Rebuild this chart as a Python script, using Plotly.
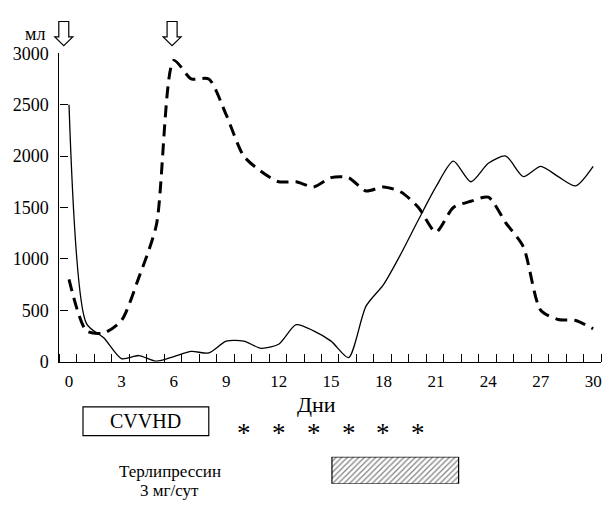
import plotly.graph_objects as go

# ---- data ----
days = list(range(31))
solid = [2500, 370, 230, 30, 60, 5, 50, 100, 85, 200, 200, 130, 170, 360, 300, 200,
         40, 540, 750, 1050, 1380, 1700, 1950, 1750, 1930, 2000, 1800, 1900, 1800, 1710, 1900]
dashed = [800, 300, 280, 400, 820, 1330, 2930, 2750, 2750, 2400, 2000, 1850, 1750, 1750, 1700, 1790,
          1790, 1660, 1700, 1650, 1500, 1260, 1500, 1560, 1600, 1350, 1120, 500, 410, 400, 320]
x_ticks = [0, 3, 6, 9, 12, 15, 18, 21, 24, 27, 30]
y_ticks = [0, 500, 1000, 1500, 2000, 2500, 3000]
star_days = [10, 12, 14, 16, 18, 20]
cvvhd_days = [0.8, 8.0]
terli_days = [15.05, 22.3]
arrow_days = [-0.3, 5.9]

W, H = 609, 512
XL, XR = 59.5, 602.0          # x-axis extent in px
YT, YB = 45.0, 366.0          # y-axis extent in px
XR0, XR1 = -0.55, 30.45
FONT = 'Liberation Serif, Times New Roman, serif'


def xp(day):
    return (XL + (day - XR0) / (XR1 - XR0) * (XR - XL)) / W


def pp(px, py):
    return px / W, (H - py) / H


fig = go.Figure()
fig.add_trace(go.Scatter(x=days, y=solid, mode='lines',
                         line=dict(color='black', width=1.3, shape='spline', smoothing=0.7)))
fig.add_trace(go.Scatter(x=days, y=dashed, mode='lines',
                         line=dict(color='black', width=3, dash='12px,7px', shape='spline', smoothing=0.7)))
fig.add_trace(go.Bar(x=[terli_days[1] - terli_days[0]], base=[terli_days[0]], y=[0],
                     orientation='h', yaxis='y2', width=1,
                     marker=dict(color='white', line=dict(color='black', width=1.2),
                                 pattern=dict(shape='/', fgcolor='black', bgcolor='white',
                                              size=4, solidity=0.3))))

shapes = []
shapes.append(dict(type='rect', xref='x', yref='paper', x0=cvvhd_days[0], x1=cvvhd_days[1],
                   y0=(H - 443) / H, y1=(H - 413) / H, line=dict(color='black', width=1.2)))
for d in arrow_days:
    cx = xp(d) * W
    pts = [(cx - 5, 12), (cx + 5, 12), (cx + 5, 28), (cx + 9, 28), (cx, 37), (cx - 9, 28), (cx - 5, 28)]
    path = 'M ' + ' L '.join('%.4f,%.4f' % pp(a, b) for a, b in pts) + ' Z'
    shapes.append(dict(type='path', xref='paper', yref='paper', path=path,
                       line=dict(color='black', width=1.2), fillcolor='white'))

ann = []
ann.append(dict(text='мл', xref='paper', yref='paper', x=35 / W, y=(H - 25) / H,
                showarrow=False, font=dict(size=18), xanchor='center', yanchor='middle'))
ann.append(dict(text='Дни', xref='paper', yref='paper', x=317 / W, y=(H - 411) / H,
                showarrow=False, font=dict(size=22), xanchor='center', yanchor='middle'))
ann.append(dict(text='CVVHD', xref='x', yref='paper', x=sum(cvvhd_days) / 2, y=(H - 428) / H,
                showarrow=False, font=dict(size=20), xanchor='center', yanchor='middle'))
for d in star_days:
    ann.append(dict(text='*', xref='x', yref='paper', x=d, y=(H - 440) / H,
                    showarrow=False, font=dict(size=27), xanchor='center', yanchor='middle'))
ann.append(dict(text='Терлипрессин', xref='paper', yref='paper', x=170 / W, y=(H - 480) / H,
                showarrow=False, font=dict(size=17), xanchor='center', yanchor='middle'))
ann.append(dict(text='3 мг/сут', xref='paper', yref='paper', x=170 / W, y=(H - 500) / H,
                showarrow=False, font=dict(size=17), xanchor='center', yanchor='middle'))

fig.update_layout(
    width=W, height=H, margin=dict(l=0, r=0, t=0, b=0),
    paper_bgcolor='white', plot_bgcolor='white', showlegend=False,
    font=dict(family=FONT, color='black'),
    xaxis=dict(domain=[XL / W, XR / W], range=[XR0, XR1], tickvals=x_ticks, ticks='',
               showgrid=False, zeroline=False, showline=True, linecolor='black', linewidth=1.2,
               tickfont=dict(size=17), anchor='y', ticklabelstandoff=4,
               minor=dict(tick0=0.45, dtick=1, ticks='inside', ticklen=8, tickcolor='black',
                          tickwidth=1, showgrid=False)),
    yaxis=dict(domain=[(H - YB) / H, (H - YT) / H], range=[0, 3000], tickvals=y_ticks,
               ticks='inside', ticklen=8, tickcolor='black', tickwidth=1, ticklabelstandoff=6,
               showline=True, linecolor='black', linewidth=1.2, showgrid=False, zeroline=False,
               tickfont=dict(size=18)),
    yaxis2=dict(domain=[(H - 493) / H, (H - 465) / H], range=[-0.5, 0.5], visible=False, anchor='x'),
    shapes=shapes, annotations=ann,
)
fig.write_html('out.html', config={'displayModeBar': False},
               post_script="document.body.style.margin='0';document.body.style.overflow='hidden';")
